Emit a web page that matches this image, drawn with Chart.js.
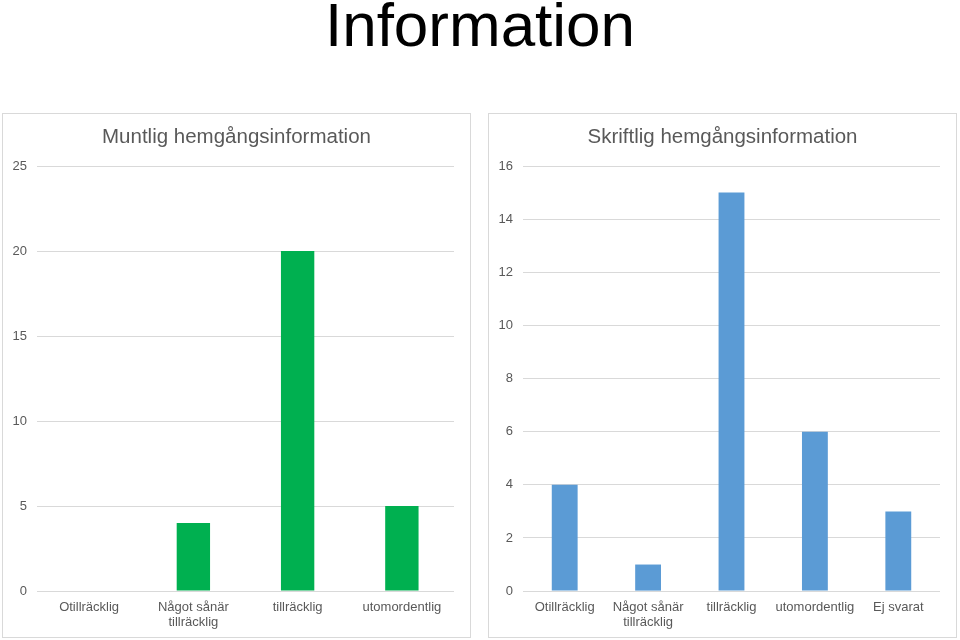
<!DOCTYPE html>
<html>
<head>
<meta charset="utf-8">
<script src="https://cdn.jsdelivr.net/npm/chart.js@4/dist/chart.umd.min.js"></script>
<style>
  html, body { margin: 0; padding: 0; background: #fff; }
  body { width: 960px; height: 640px; position: relative; overflow: hidden; font-family: "Liberation Sans", Arial, sans-serif; }
  #mainTitle { position: absolute; left: 0; top: -6px; width: 960px; text-align: center; font-size: 62px; line-height: 62px; color: #000; }
  .panel { position: absolute; top: 113px; width: 467px; height: 523px; border: 1px solid #d9d9d9; background: #fff; }
  .panel canvas { display: block; }
</style>
</head>
<body>
<div id="mainTitle">Information</div>
<div class="panel" id="p1" style="left:2px;"><canvas id="c1" width="467" height="523"></canvas></div>
<div class="panel" id="p2" style="left:488px;"><canvas id="c2" width="467" height="523"></canvas></div>
<script>
const categoriesMuntlig = ["Otillräcklig", ["Något sånär", "tillräcklig"], "tillräcklig", "utomordentlig"];
const valuesMuntlig = [0, 4, 20, 5];
const ticksMuntlig = { min: 0, max: 25, step: 5 };

const categoriesSkriftlig = ["Otillräcklig", ["Något sånär", "tillräcklig"], "tillräcklig", "utomordentlig", "Ej svarat"];
const valuesSkriftlig = [4, 1, 15, 6, 3];
const ticksSkriftlig = { min: 0, max: 16, step: 2 };

const textColor = "#595959";
const gridColor = "#d9d9d9";
const fontFamily = "'Liberation Sans', Arial, sans-serif";

// Chart title drawn centred on the whole canvas (panel), like the reference
const centeredTitle = {
  id: "centeredTitle",
  afterDraw(chart, args, opts) {
    const ctx = chart.ctx;
    ctx.save();
    ctx.fillStyle = opts.color;
    ctx.font = "normal " + opts.size + "px " + fontFamily;
    ctx.textAlign = "center";
    ctx.textBaseline = "alphabetic";
    ctx.fillText(opts.text, chart.width / 2, opts.baseline);
    ctx.restore();
  }
};

function makeChart(id, title, labels, values, color, tk, barPct) {
  return new Chart(document.getElementById(id), {
    type: "bar",
    data: {
      labels: labels,
      datasets: [{ data: values, backgroundColor: color, borderWidth: 0, barPercentage: barPct, categoryPercentage: 1 }]
    },
    plugins: [centeredTitle],
    options: {
      responsive: false,
      animation: false,
      devicePixelRatio: 1,
      layout: { padding: { left: 0, right: 16, top: 52, bottom: -2 } },
      plugins: {
        legend: { display: false },
        tooltip: { enabled: false },
        title: { display: false },
        centeredTitle: { text: title, color: textColor, size: 20.5, baseline: 29 }
      },
      scales: {
        x: {
          grid: { display: false, drawTicks: false },
          border: { display: false },
          ticks: { color: textColor, font: { family: fontFamily, size: 13, lineHeight: 1.15 }, padding: 9, maxRotation: 0, autoSkip: false }
        },
        y: {
          min: tk.min, max: tk.max,
          grid: { color: gridColor, lineWidth: 1, drawTicks: false },
          border: { display: false },
          ticks: { stepSize: tk.step, color: textColor, font: { family: fontFamily, size: 13 }, padding: 10 },
          afterFit: function (scale) { scale.width = 34; }
        }
      }
    }
  });
}

makeChart("c1", "Muntlig hemgångsinformation", categoriesMuntlig, valuesMuntlig, "#00b050", ticksMuntlig, 0.32);
makeChart("c2", "Skriftlig hemgångsinformation", categoriesSkriftlig, valuesSkriftlig, "#5b9bd5", ticksSkriftlig, 0.31);
</script>
</body>
</html>
